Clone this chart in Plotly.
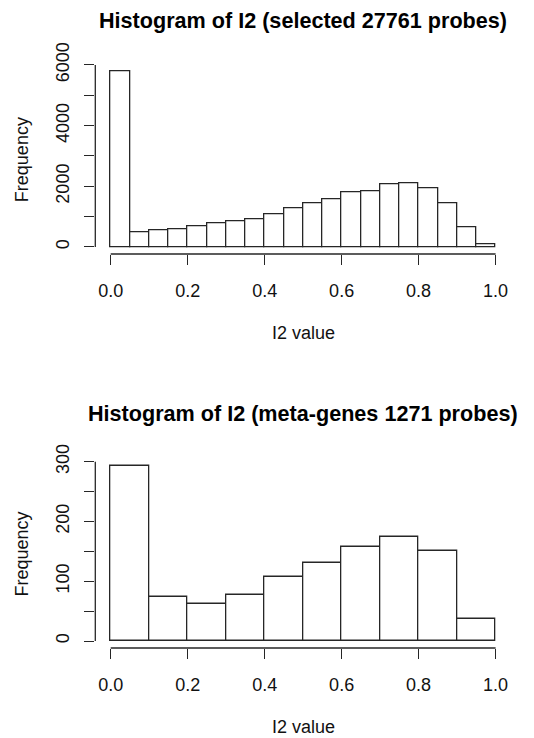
import plotly.graph_objects as go

# ---- data ----
breaks_top = [i * 0.05 for i in range(21)]
counts_top = [5790, 480, 550, 583, 683, 782, 837, 903, 1090, 1266,
              1453, 1563, 1795, 1850, 2070, 2114, 1949, 1431, 639, 99]
breaks_bot = [i * 0.1 for i in range(11)]
counts_bot = [293, 73, 62, 77, 107, 131, 158, 175, 151, 37]

xticks = [0.0, 0.2, 0.4, 0.6, 0.8, 1.0]
xticklabels = ["0.0", "0.2", "0.4", "0.6", "0.8", "1.0"]
yticks_top = [0, 1000, 2000, 3000, 4000, 5000, 6000]
ylabels_top = ["0", "", "2000", "", "4000", "", "6000"]
yticks_bot = [0, 50, 100, 150, 200, 250, 300]
ylabels_bot = ["0", "", "100", "", "200", "", "300"]

title_top = "Histogram of I2 (selected 27761 probes)"
title_bot = "Histogram of I2 (meta-genes 1271 probes)"
xlab = "I2 value"
ylab = "Frequency"

W, H = 534, 738
FONT = "Liberation Sans, Arial, sans-serif"
LC = "#262626"
LW = 1.3


def px_y(p):
    return 1 - p / H


fig = go.Figure()

panels = [
    dict(br=breaks_top, ct=counts_top, yt=yticks_top, yl=ylabels_top,
         title=title_top, xa="x", ya="y", top=64.3, bottom=254.0,
         title_y=20, xlab_y=333),
    dict(br=breaks_bot, ct=counts_bot, yt=yticks_bot, yl=ylabels_bot,
         title=title_bot, xa="x2", ya="y2", top=458.9, bottom=648.0,
         title_y=413, xlab_y=727),
]

left_px, right_px = 95.3, 511.0

for i, p in enumerate(panels):
    br, ct = p["br"], p["ct"]
    centers = [(br[k] + br[k + 1]) / 2 for k in range(len(ct))]
    widths = [br[k + 1] - br[k] for k in range(len(ct))]
    fig.add_trace(go.Bar(
        x=centers, y=ct, width=widths,
        marker=dict(color="white", line=dict(color=LC, width=LW)),
        xaxis=p["xa"], yaxis=p["ya"], showlegend=False, hoverinfo="x+y",
    ))
    sfx = "" if i == 0 else "2"
    ymax = max(ct)
    xr = [min(br) - 0.04 * (max(br) - min(br)), max(br) + 0.04 * (max(br) - min(br))]
    yr = [-0.04 * ymax, 1.04 * ymax]
    fig.update_layout(**{
        "xaxis" + sfx: dict(
            domain=[left_px / W, right_px / W], range=xr, automargin=False,
            anchor="y" + sfx, showgrid=False, zeroline=False, showline=False,
            tickmode="array", tickvals=xticks, ticktext=xticklabels,
            ticks="outside", ticklen=10, tickwidth=LW, tickcolor=LC,
            ticklabelstandoff=10,
            tickfont=dict(family=FONT, size=18, color="#111"),
        ),
        "yaxis" + sfx: dict(
            domain=[px_y(p["bottom"]), px_y(p["top"])], range=yr, automargin=False,
            anchor="x" + sfx, showgrid=False, zeroline=False, showline=False,
            tickmode="array", tickvals=p["yt"], ticktext=p["yl"],
            ticks="outside", ticklen=10, tickwidth=LW, tickcolor=LC,
            tickangle=-90, ticklabelstandoff=8,
            tickfont=dict(family=FONT, size=18, color="#111"),
        ),
    })
    # axis lines spanning tick range
    fig.add_shape(type="line", xref=p["xa"], yref=p["ya"] + " domain",
                  x0=xticks[0], x1=xticks[-1], y0=0, y1=0,
                  line=dict(color=LC, width=LW))
    fig.add_shape(type="line", xref=p["xa"] + " domain", yref=p["ya"],
                  x0=0, x1=0, y0=p["yt"][0], y1=p["yt"][-1],
                  line=dict(color=LC, width=LW))
    cx = (left_px + right_px) / 2 / W
    fig.add_annotation(text="<b>" + p["title"] + "</b>", xref="paper", yref="paper",
                       x=cx, y=px_y(p["title_y"]), xanchor="center", yanchor="middle",
                       showarrow=False, font=dict(family=FONT, size=21.6, color="#000"))
    fig.add_annotation(text=xlab, xref="paper", yref="paper",
                       x=cx, y=px_y(p["xlab_y"]), xanchor="center", yanchor="middle",
                       showarrow=False, font=dict(family=FONT, size=18, color="#111"))
    fig.add_annotation(text=ylab, xref="paper", yref="paper",
                       x=22 / W, y=px_y((p["top"] + p["bottom"]) / 2),
                       xanchor="center", yanchor="middle", textangle=-90,
                       showarrow=False, font=dict(family=FONT, size=18, color="#111"))

fig.update_layout(
    width=W, height=H,
    margin=dict(l=0, r=0, t=0, b=0),
    paper_bgcolor="white", plot_bgcolor="white",
    bargap=0,
)

fig.write_html("out.html")
